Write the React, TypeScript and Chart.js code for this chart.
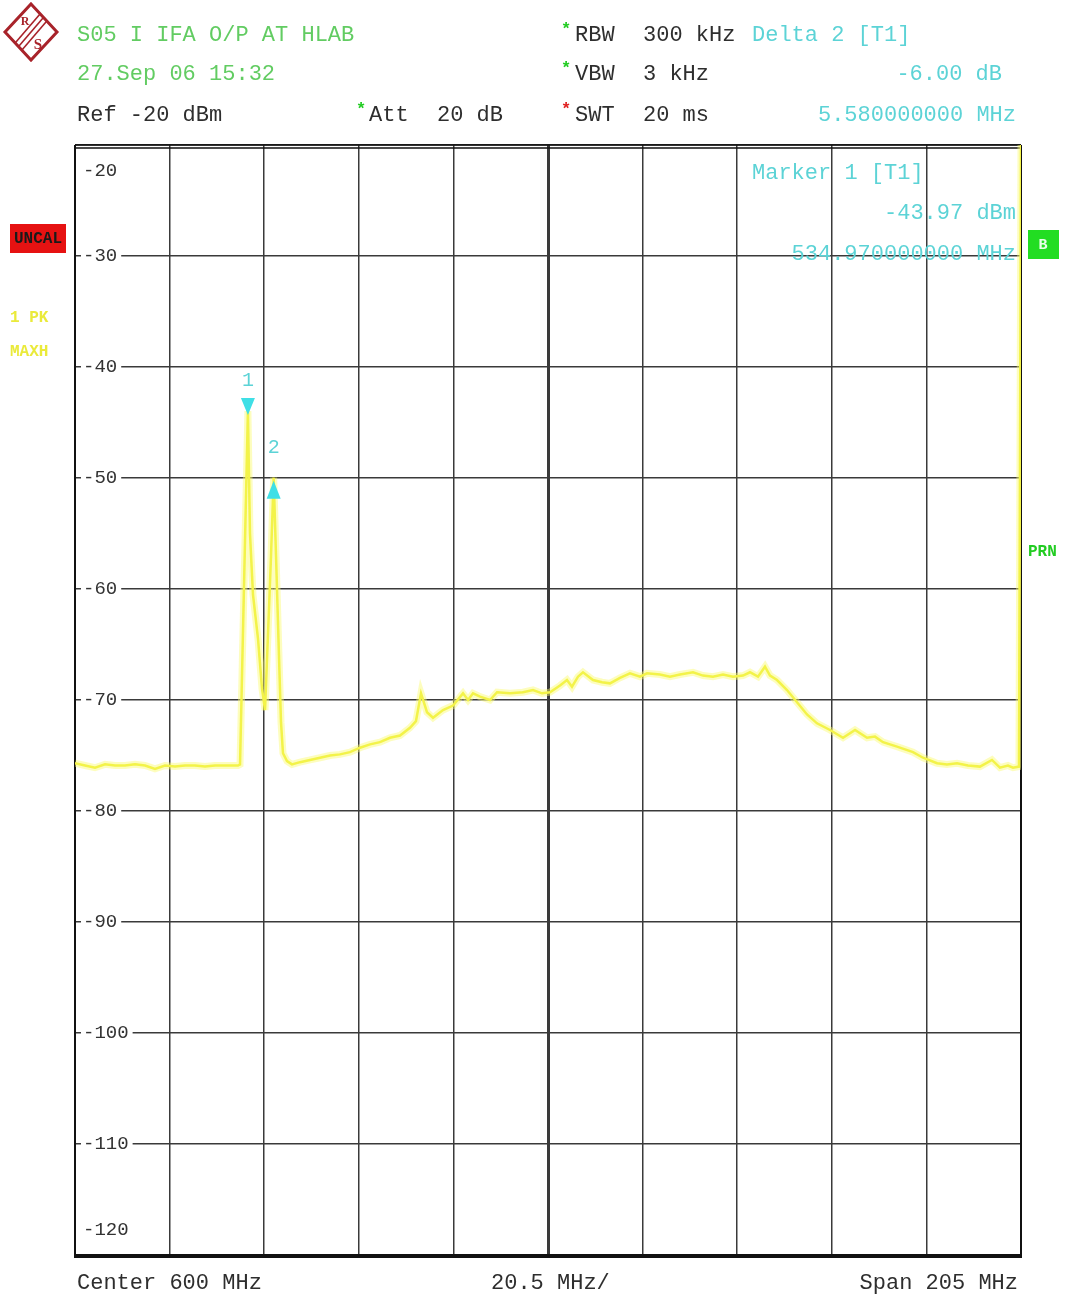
import React, { useEffect, useRef } from "react";
import { Chart, registerables } from "chart.js";

Chart.register(...registerables);

// Trace 1 (PK, max hold): frequency in MHz and level in dBm
const FREQ_MHZ = [
  497.5, 499.67, 501.83, 504.0, 506.17, 508.34, 510.5, 512.67, 514.84, 517.0,
  519.17, 521.34, 523.5, 525.67, 527.84, 530.0, 532.82, 533.26, 534.97, 535.42,
  536.07, 537.16, 538.03, 538.68, 539.33, 539.98, 540.55, 541.06, 541.7, 542.14,
  542.57, 543.44, 544.52, 546.26, 548.42, 550.59, 552.76, 554.92, 557.09, 559.26,
  561.43, 563.59, 565.76, 567.93, 570.09, 571.39, 572.48, 573.78, 575.08, 577.25,
  579.42, 581.58, 582.67, 583.75, 585.27, 587.43, 588.95, 591.77, 594.58, 596.75,
  598.7, 600.43, 602.6, 604.12, 605.2, 606.5, 607.58, 609.75, 611.7, 613.43,
  615.6, 617.77, 619.93, 621.45, 624.27, 626.43, 628.6, 631.42, 633.59, 635.75,
  637.92, 640.09, 642.26, 643.77, 645.51, 647.02, 648.11, 649.63, 651.79, 653.96,
  656.13, 658.29, 661.11, 663.93, 666.53, 669.13, 670.86, 672.6, 675.63, 679.1,
  681.26, 684.3, 686.46, 688.63, 691.01, 693.61, 696.21, 697.94, 699.67, 700.76,
  702.06, 702.5,
];
const LEVEL_DBM = [
  -75.7, -75.9, -76.1, -75.8, -75.9, -75.9, -75.8, -75.9, -76.2, -75.9,
  -76.0, -75.9, -75.9, -76.0, -75.9, -75.9, -75.9, -75.8, -43.97, -55.0,
  -60.5, -64.5, -69.0, -70.9, -64.0, -57.0, -49.97, -57.0, -66.0, -72.0,
  -74.8, -75.5, -75.8, -75.6, -75.4, -75.2, -75.0, -74.9, -74.7, -74.3,
  -74.0, -73.8, -73.4, -73.2, -72.5, -71.9, -69.4, -71.1, -71.6, -70.9,
  -70.5, -69.4, -70.0, -69.4, -69.7, -70.0, -69.3, -69.4, -69.3, -69.1,
  -69.4, -69.3, -68.7, -68.2, -68.8, -67.9, -67.5, -68.2, -68.4, -68.5,
  -68.0, -67.6, -67.9, -67.6, -67.7, -67.9, -67.7, -67.5, -67.8, -67.9,
  -67.7, -67.9, -67.8, -67.5, -67.9, -67.0, -67.8, -68.2, -69.1, -70.2,
  -71.3, -72.1, -72.7, -73.4, -72.7, -73.4, -73.3, -73.8, -74.2, -74.7,
  -75.2, -75.7, -75.8, -75.7, -75.9, -76.0, -75.4, -76.1, -75.9, -76.1,
  -76.0, -20.0,
];

// Markers: 1 is the reference, 2 is the delta marker
const MARKER_NAMES = ["1", "2"];
const MARKER_FREQ = [534.97, 540.55];
const MARKER_LEVEL = [-43.97, -49.97];

// Vertical divisions (center 600 MHz, 20.5 MHz/div) and level ticks
const X_GRID = [497.5, 518, 538.5, 559, 579.5, 600, 620.5, 641, 661.5, 682, 702.5];
const Y_TICKS = [-20, -30, -40, -50, -60, -70, -80, -90, -100, -110, -120];

const MONO = '"Liberation Mono", "DejaVu Sans Mono", monospace';
const GREEN = "#62cc62";
const CYAN = "#5cd3d6";
const DARK = "#2e2e2e";

function drawLogo(ctx: CanvasRenderingContext2D) {
  ctx.save();
  ctx.translate(31, 32);
  ctx.strokeStyle = "#a8232a";
  ctx.fillStyle = "#ffffff";
  ctx.lineWidth = 3;
  ctx.beginPath();
  ctx.moveTo(0, -28);
  ctx.lineTo(26, 0);
  ctx.lineTo(0, 28);
  ctx.lineTo(-26, 0);
  ctx.closePath();
  ctx.fill();
  ctx.stroke();
  ctx.lineWidth = 1.6;
  for (let k = -1; k <= 1; k++) {
    const o = k * 3.4;
    ctx.beginPath();
    ctx.moveTo(12 + o, -14 + o);
    ctx.lineTo(-12 + o, 14 + o);
    ctx.stroke();
  }
  ctx.fillStyle = "#a8232a";
  ctx.textAlign = "center";
  ctx.textBaseline = "middle";
  ctx.font = "bold 12px 'Liberation Serif', serif";
  ctx.fillText("R", -6, -10);
  ctx.font = "bold 15px 'Liberation Serif', serif";
  ctx.fillText("S", 7, 13);
  ctx.restore();
}

function text(
  ctx: CanvasRenderingContext2D,
  s: string,
  x: number,
  y: number,
  color: string,
  align: CanvasTextAlign = "left",
  font = `22px ${MONO}`
) {
  ctx.font = font;
  ctx.fillStyle = color;
  ctx.textAlign = align;
  ctx.textBaseline = "middle";
  ctx.fillText(s, x, y);
}

const framePlugin = {
  id: "analyzerFrame",
  beforeDatasetsDraw(chart: any) {
    const { ctx, chartArea: a } = chart;
    ctx.save();
    ctx.strokeStyle = "#111";
    // top double line
    ctx.lineWidth = 1.5;
    ctx.beginPath();
    ctx.moveTo(a.left, a.top);
    ctx.lineTo(a.right, a.top);
    ctx.moveTo(a.left, a.top + 3);
    ctx.lineTo(a.right, a.top + 3);
    ctx.stroke();
    // left and right edges
    ctx.lineWidth = 2;
    ctx.beginPath();
    ctx.moveTo(a.left, a.top);
    ctx.lineTo(a.left, a.bottom);
    ctx.moveTo(a.right, a.top);
    ctx.lineTo(a.right, a.bottom);
    ctx.stroke();
    // heavy bottom edge
    ctx.lineWidth = 4;
    ctx.beginPath();
    ctx.moveTo(a.left - 1, a.bottom + 1);
    ctx.lineTo(a.right + 1, a.bottom + 1);
    ctx.stroke();

    // level labels inside the grid
    const ys = chart.scales.y;
    ctx.font = `19px ${MONO}`;
    ctx.textAlign = "left";
    ctx.textBaseline = "middle";
    Y_TICKS.forEach((v, i) => {
      let y = ys.getPixelForValue(v);
      if (i === 0) y += 26;
      else if (i === Y_TICKS.length - 1) y -= 25;
      const s = String(v);
      const w = ctx.measureText(s).width;
      ctx.fillStyle = "#ffffff";
      ctx.fillRect(a.left + 6, y - 10, w + 6, 20);
      ctx.fillStyle = "#333";
      ctx.fillText(s, a.left + 8, y);
    });
    ctx.restore();
  },
  afterDatasetsDraw(chart: any) {
    const { ctx } = chart;
    const xs = chart.scales.x;
    const ys = chart.scales.y;
    ctx.save();
    // marker symbols
    MARKER_FREQ.forEach((f, i) => {
      const px = xs.getPixelForValue(f);
      const py = ys.getPixelForValue(MARKER_LEVEL[i]);
      ctx.fillStyle = "#3fdfe6";
      ctx.beginPath();
      if (i === 0) {
        ctx.moveTo(px - 7, py - 13);
        ctx.lineTo(px + 7, py - 13);
        ctx.lineTo(px, py + 4);
      } else {
        ctx.moveTo(px - 7, py + 21);
        ctx.lineTo(px + 7, py + 21);
        ctx.lineTo(px, py + 3);
      }
      ctx.closePath();
      ctx.fill();
      text(ctx, MARKER_NAMES[i], px, py - 30, CYAN, "center", `20px ${MONO}`);
    });

    // marker readout
    text(ctx, "Marker 1 [T1]", 752, 173, CYAN);
    text(ctx, `${MARKER_LEVEL[0].toFixed(2)} dBm`, 1016, 213, CYAN, "right");
    text(ctx, `${MARKER_FREQ[0].toFixed(9)} MHz`, 1016, 254, CYAN, "right");
    ctx.restore();
  },
  afterDraw(chart: any) {
    const { ctx } = chart;
    ctx.save();
    drawLogo(ctx);

    // header
    text(ctx, "S05 I IFA O/P AT HLAB", 77, 35, GREEN);
    text(ctx, "27.Sep 06 15:32", 77, 74, GREEN);
    text(ctx, "Ref -20 dBm", 77, 115, DARK);

    const star = (x: number, y: number, c: string) =>
      text(ctx, "*", x, y, c, "left", `bold 17px ${MONO}`);
    star(356, 110, "#22cc22");
    text(ctx, "Att", 369, 115, DARK);
    text(ctx, "20 dB", 437, 115, DARK);

    star(561, 30, "#22cc22");
    text(ctx, "RBW", 575, 35, DARK);
    text(ctx, "300 kHz", 643, 35, DARK);
    text(ctx, "Delta 2 [T1]", 752, 35, CYAN);

    star(561, 69, "#22cc22");
    text(ctx, "VBW", 575, 74, DARK);
    text(ctx, "3 kHz", 643, 74, DARK);
    const delta = MARKER_LEVEL[1] - MARKER_LEVEL[0];
    text(ctx, `${delta.toFixed(2)} dB`, 1002, 74, CYAN, "right");

    star(561, 110, "#e02020");
    text(ctx, "SWT", 575, 115, DARK);
    text(ctx, "20 ms", 643, 115, DARK);
    const dF = MARKER_FREQ[1] - MARKER_FREQ[0];
    text(ctx, `${dF.toFixed(9)} MHz`, 1016, 115, CYAN, "right");

    // side annotations
    ctx.fillStyle = "#e61212";
    ctx.fillRect(10, 224, 56, 29);
    text(ctx, "UNCAL", 38, 239, "#1a1a1a", "center", `bold 16px ${MONO}`);
    text(ctx, "1 PK", 10, 318, "#eaea3a", "left", `bold 16px ${MONO}`);
    text(ctx, "MAXH", 10, 352, "#eaea3a", "left", `bold 16px ${MONO}`);

    ctx.fillStyle = "#22dd22";
    ctx.fillRect(1028, 230, 31, 29);
    text(ctx, "B", 1043, 245, "#e8ffe8", "center", `bold 15px ${MONO}`);
    text(ctx, "PRN", 1028, 552, "#22cc22", "left", `bold 16px ${MONO}`);

    // footer
    text(ctx, "Center 600 MHz", 77, 1283, DARK);
    text(ctx, "20.5 MHz/", 491, 1283, DARK);
    text(ctx, "Span 205 MHz", 1018, 1283, DARK, "right");
    ctx.restore();
  },
};

export default function App() {
  const ref = useRef<HTMLCanvasElement>(null);

  useEffect(() => {
    if (!ref.current) return;
    const points = FREQ_MHZ.map((f, i) => ({ x: f, y: LEVEL_DBM[i] }));
    const gridWidth = (c: any) => (c.tick && c.tick.value === 600 ? 3 : 1.5);
    const chart = new Chart(ref.current, {
      type: "line",
      data: {
        datasets: [
          {
            data: points,
            borderColor: "rgba(250,250,110,0.45)",
            borderWidth: 7,
            pointRadius: 0,
            tension: 0,
          },
          {
            data: points,
            borderColor: "#eded2a",
            borderWidth: 2.5,
            pointRadius: 0,
            tension: 0,
          },
          {
            data: points,
            borderColor: "rgba(50,50,0,0.75)",
            borderWidth: 1,
            borderDash: [1, 5],
            pointRadius: 0,
            tension: 0,
          },
        ],
      },
      options: {
        responsive: false,
        animation: false,
        devicePixelRatio: 1,
        layout: { padding: { left: 75, right: 45, top: 145, bottom: 47 } },
        plugins: { legend: { display: false }, tooltip: { enabled: false } },
        scales: {
          x: {
            type: "linear",
            min: 497.5,
            max: 702.5,
            afterBuildTicks: (axis: any) => {
              axis.ticks = X_GRID.map((v) => ({ value: v }));
            },
            ticks: { display: false },
            grid: { color: "#3a3a3a", lineWidth: gridWidth, drawTicks: false },
            border: { display: false },
          },
          y: {
            type: "linear",
            min: -120,
            max: -20,
            afterBuildTicks: (axis: any) => {
              axis.ticks = Y_TICKS.map((v) => ({ value: v }));
            },
            ticks: { display: false },
            grid: { color: "#3a3a3a", lineWidth: 1.5, drawTicks: false },
            border: { display: false },
          },
        },
      },
      plugins: [framePlugin],
    });
    return () => chart.destroy();
  }, []);

  return (
    <div style={{ position: "absolute", left: 0, top: 0, width: 1066, height: 1302, background: "#fff" }}>
      <canvas ref={ref} width={1066} height={1302} style={{ width: 1066, height: 1302 }} />
    </div>
  );
}
